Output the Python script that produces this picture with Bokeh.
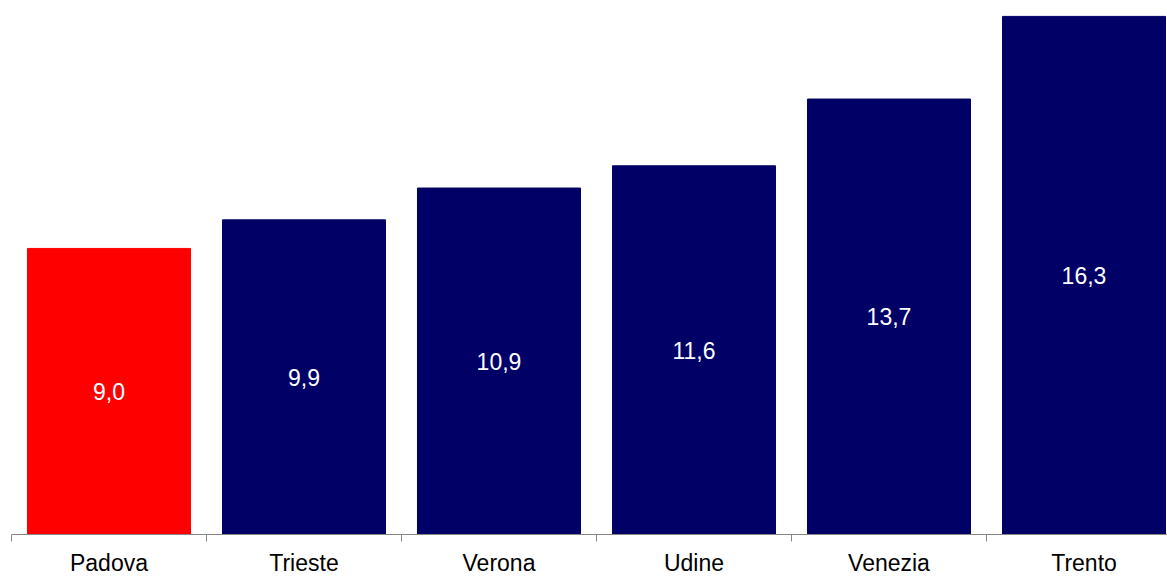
from bokeh.plotting import figure
from bokeh.models import ColumnDataSource, FixedTicker, Range1d
from bokeh.core.properties import value
from bokeh.embed import file_html
from bokeh.resources import INLINE

cities = ["Padova", "Trieste", "Verona", "Udine", "Venezia", "Trento"]
values = [9.0, 9.9, 10.9, 11.6, 13.7, 16.3]
colors = ["#FF0000", "#000066", "#000066", "#000066", "#000066", "#000066"]

xs = [i + 0.5 for i in range(len(cities))]
labels = [f"{v:.1f}".replace(".", ",") for v in values]
mids = [v / 2 for v in values]

src = ColumnDataSource(dict(x=xs, top=values, color=colors, label=labels, mid=mids))

W, H = 1167, 578
p = figure(width=W, height=H, output_backend="svg", toolbar_location=None,
           x_range=Range1d(0, 1156 / 195.0), y_range=Range1d(0, 16.80))
p.min_border_left = 11
p.min_border_right = 0
p.min_border_top = 0
p.min_border_bottom = 0
p.outline_line_color = None
p.xgrid.visible = False
p.ygrid.visible = False
p.yaxis.visible = False
p.background_fill_color = "white"
p.border_fill_color = "white"

p.vbar(x="x", top="top", bottom=0, width=0.836, fill_color="color", line_color="color", source=src)
p.text(x="x", y="mid", text="label", source=src, text_color="white",
       text_font=value("Liberation Sans"), text_font_size="23px",
       text_align="center", text_baseline="middle")

ax = p.xaxis[0]
ax.ticker = FixedTicker(ticks=xs, minor_ticks=list(range(len(cities) + 1)))
ax.major_label_overrides = {x: c for x, c in zip(xs, cities)}
ax.major_tick_out = 0
ax.major_tick_in = 0
ax.minor_tick_out = 7
ax.minor_tick_in = 0
ax.minor_tick_line_color = "#868686"
ax.axis_line_color = "#868686"
ax.major_label_text_font = "Liberation Sans"
ax.major_label_text_font_size = "23px"
ax.major_label_text_color = "black"
ax.major_label_standoff = 8

open("out.html", "w").write(file_html(p, INLINE))
